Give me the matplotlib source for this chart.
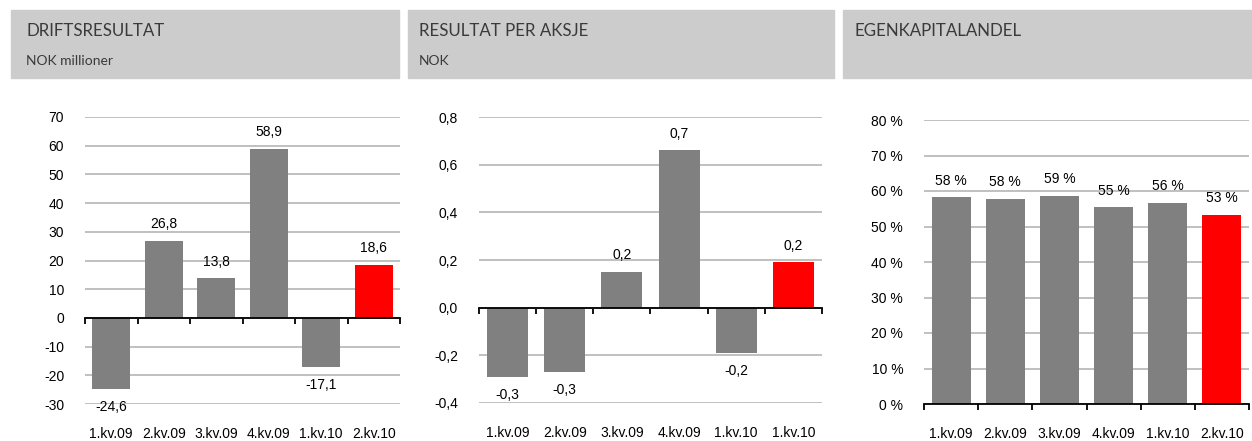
import matplotlib
matplotlib.use("Agg")
import matplotlib.pyplot as plt
from matplotlib.patches import Rectangle
from matplotlib.ticker import FixedLocator, FuncFormatter

plt.rcParams["font.family"] = ["Liberation Sans", "DejaVu Sans"]

quarters_1 = ["1.kv.09", "2.kv.09", "3.kv.09", "4.kv.09", "1.kv.10", "2.kv.10"]
quarters_2 = ["1.kv.09", "2.kv.09", "3.kv.09", "4.kv.09", "1.kv.10", "1.kv.10"]

drifts = [-24.6, 26.8, 13.8, 58.9, -17.1, 18.6]
drifts_labels = ["-24,6", "26,8", "13,8", "58,9", "-17,1", "18,6"]

eps = [-0.29, -0.27, 0.15, 0.66, -0.19, 0.19]
eps_labels = ["-0,3", "-0,3", "0,2", "0,7", "-0,2", "0,2"]

equity = [0.582, 0.577, 0.587, 0.554, 0.566, 0.533]
equity_labels = ["58 %", "58 %", "59 %", "55 %", "56 %", "53 %"]

titles = ["DRIFTSRESULTAT", "RESULTAT PER AKSJE", "EGENKAPITALANDEL"]
subtitles = ["NOK millioner", "NOK", ""]

GREY = "#808080"
RED = "#ff0000"
HEADER = "#cccccc"

W, H = 1252, 441
fig = plt.figure(figsize=(W / 100, H / 100), dpi=100)

# header boxes (pixel coords -> figure fraction)
headers = [(11, 399, 15), (408, 834, 11), (843, 1252, 11)]
for (x0, x1, tx), t, s in zip(headers, titles, subtitles):
    fig.patches.append(Rectangle((x0 / W, 1 - 78 / H), (x1 - x0) / W, 68 / H,
                                 transform=fig.transFigure, color=HEADER, zorder=0))
    fig.text((x0 + tx) / W, 1 - 31 / H, t, fontsize=12.2, color="#3a3a3a",
             family=["Lato", "DejaVu Sans"], va="center", ha="left")
    if s:
        fig.text((x0 + tx) / W, 1 - 61 / H, s, fontsize=10, color="#3a3a3a",
                 family=["Lato", "DejaVu Sans"], va="center", ha="left")


def fmt_comma(v, dec):
    return f"{v:.{dec}f}".replace(".", ",")


def panel(rect, cats, vals, labels, ylim, ticks, tickfmt):
    ax = fig.add_axes(rect)
    x = range(len(vals))
    colors = [GREY] * (len(vals) - 1) + [RED]
    ax.bar(x, vals, width=0.72, color=colors, zorder=3)
    ax.set_xlim(-0.5, len(vals) - 0.5)
    ax.set_ylim(*ylim)
    ax.yaxis.set_major_locator(FixedLocator(ticks))
    ax.yaxis.set_major_formatter(FuncFormatter(tickfmt))
    ax.tick_params(axis="y", length=0, pad=15, labelsize=10)
    ax.grid(axis="y", color="#c0c0c0", linewidth=1.4, zorder=0)
    for sp in ["left", "right", "top"]:
        ax.spines[sp].set_visible(False)
    ax.spines["bottom"].set_position(("data", 0))
    ax.spines["bottom"].set_linewidth(1.3)
    ax.spines["bottom"].set_zorder(4)
    ax.xaxis.set_major_locator(FixedLocator([]))
    ax.xaxis.set_minor_locator(FixedLocator([i - 0.5 for i in range(len(vals) + 1)]))
    ax.tick_params(axis="x", which="minor", length=4, width=1.3, direction="out")
    for i, (v, lab) in enumerate(zip(vals, labels)):
        off = 12 if v >= 0 else -13
        ax.annotate(lab, (i, v), xytext=(0, off), textcoords="offset points",
                    ha="center", va="center", fontsize=10)
    for i, c in enumerate(cats):
        ax.annotate(c, (i, 0), xycoords=("data", "axes fraction"), xytext=(0, -21.5),
                    textcoords="offset points", ha="center", va="center", fontsize=10)
    return ax


panel([85 / W, 37 / H, 315 / W, 287 / H], quarters_1, drifts, drifts_labels,
      (-30, 70), range(-30, 71, 10), lambda v, p: f"{v:.0f}")
panel([479 / W, 38 / H, 343 / W, 286 / H], quarters_2, eps, eps_labels,
      (-0.4, 0.8), [-0.4, -0.2, 0, 0.2, 0.4, 0.6, 0.8], lambda v, p: fmt_comma(v, 1))
panel([924 / W, 37 / H, 325 / W, 284 / H], quarters_1, equity, equity_labels,
      (0, 0.8), [i / 10 for i in range(9)], lambda v, p: f"{v * 100:.0f} %")

fig.savefig("out.png", dpi=100)
